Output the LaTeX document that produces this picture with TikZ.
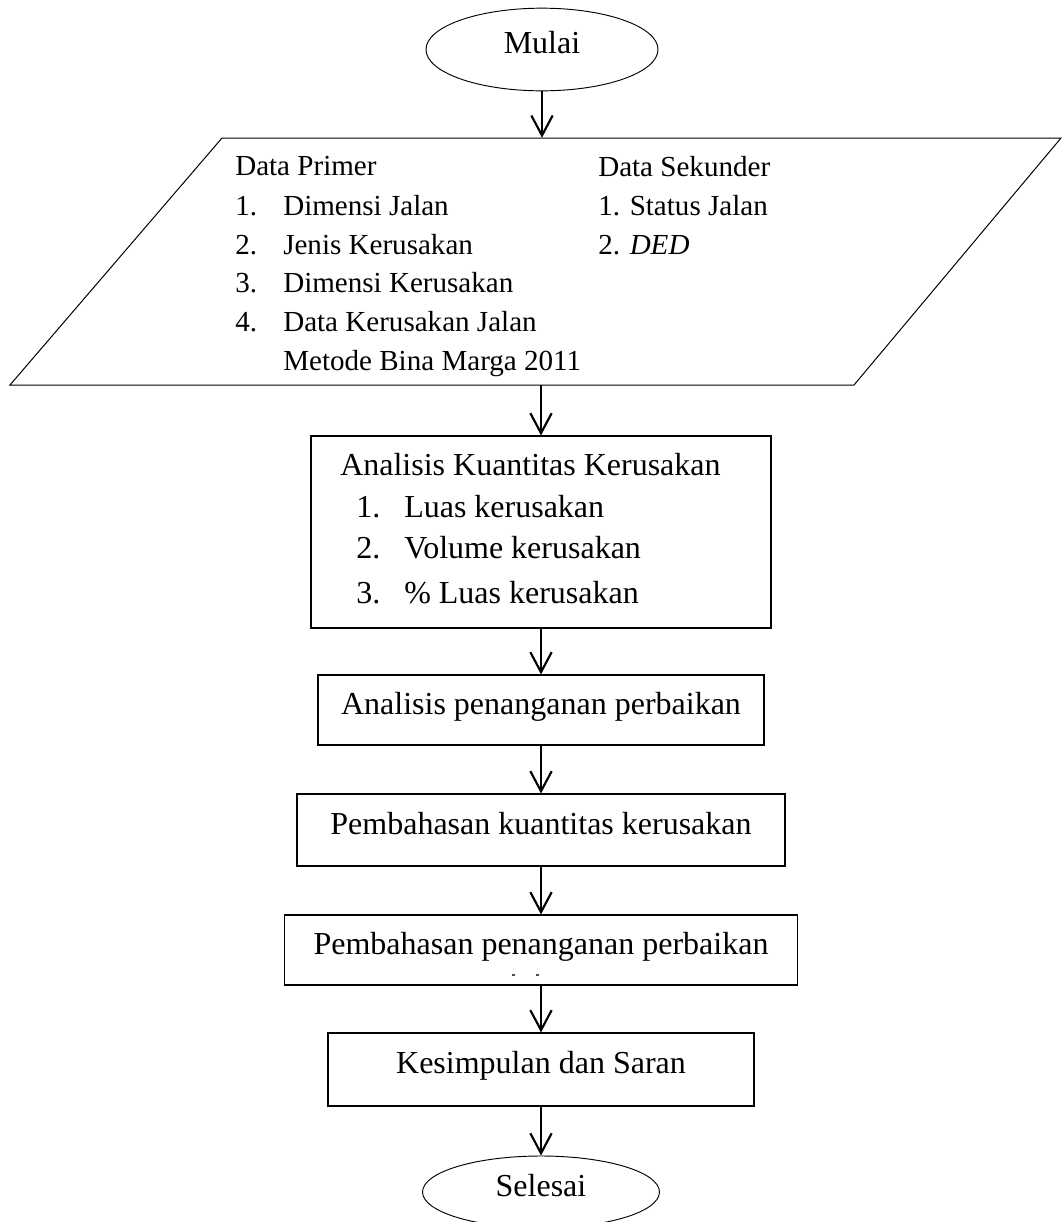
\documentclass[tikz,border=0pt]{standalone}
\usepackage{fontspec}
\setmainfont{Liberation Serif}
\usetikzlibrary{shapes.geometric,arrows.meta}
\tikzset{
  boxfont/.style={font=\fontsize{24}{28}\selectfont},
  datafont/.style={font=\fontsize{21.8}{26}\selectfont},
  procbox/.style={draw, line width=0.85pt, rectangle, inner sep=0pt, boxfont, align=center, text height=18pt, text depth=12pt},
  termnode/.style={draw, line width=0.7pt, ellipse, inner sep=0pt, boxfont, text height=18pt, text depth=12pt},
  txt/.style={inner sep=0pt, anchor=base west},
  flowarrow/.style={line width=1.6pt, -{Straight Barb[length=15pt,width=16pt,line width=1.6pt]}},
  shapeline/.style={line width=0.75pt}
}
\begin{document}
\begin{tikzpicture}[x=0.75pt,y=-0.75pt]
\useasboundingbox (0,0) rectangle (1062,1222);

% Terminator: Mulai
\node[termnode, minimum width=174pt, minimum height=62pt] (mulai) at (542,49.5) {Mulai};

% Data input (parallelogram)
\node[inner sep=0pt, minimum width=10pt, minimum height=185.25pt] (data) at (541,261.5) {};
\draw[shapeline] (222,138) -- (1061,138) -- (854,385) -- (10,385) -- cycle;

\node[txt, datafont] (dp) at (235,175) {Data Primer};
\node[txt, datafont] (n1) at (235,215) {1.};
\node[txt, datafont] (t1) at (283,215) {Dimensi Jalan};
\node[txt, datafont] (n2) at (235,254) {2.};
\node[txt, datafont] (t2) at (283,254) {Jenis Kerusakan};
\node[txt, datafont] (n3) at (235,292) {3.};
\node[txt, datafont] (t3) at (283,292) {Dimensi Kerusakan};
\node[txt, datafont] (n4) at (235,331) {4.};
\node[txt, datafont] (t4) at (283,331) {Data Kerusakan Jalan};
\node[txt, datafont] (t5) at (283,370) {Metode Bina Marga 2011};
\node[txt, datafont] (ds) at (598,176) {Data Sekunder};
\node[txt, datafont] (s1) at (598,215) {1. Status Jalan};
\node[txt, datafont] (s2) at (598,254) {2. \textit{DED}};

% Box 1
\node[procbox, minimum width=345pt, minimum height=144pt] (box1) at (541,532) {};
\node[txt, boxfont] (b1t) at (340,475) {Analisis Kuantitas Kerusakan};
\node[txt, boxfont] (b1n1) at (356,517) {1.};
\node[txt, boxfont] (b1i1) at (404,517) {Luas kerusakan};
\node[txt, boxfont] (b1n2) at (356,558) {2.};
\node[txt, boxfont] (b1i2) at (404,558) {Volume kerusakan};
\node[txt, boxfont] (b1n3) at (356,603) {3.};
\node[txt, boxfont] (b1i3) at (404,603) {\% Luas kerusakan};

% Box 2-5
\node[procbox, minimum width=334.5pt, minimum height=52.5pt] (box2) at (541,710) {Analisis penanganan perbaikan};
\node[procbox, minimum width=366pt, minimum height=54pt] (box3) at (541,830) {Pembahasan kuantitas kerusakan};
\node[procbox, minimum width=384.75pt, minimum height=52.5pt] (box4) at (541,950) {Pembahasan penanganan perbaikan};
\fill[black!70] (512,974) rectangle (515,976);
\fill[black!70] (536,974) rectangle (539,976);
\node[procbox, minimum width=319.5pt, minimum height=54.75pt] (box5) at (541,1069.5) {Kesimpulan dan Saran};

% Terminator: Selesai
\node[termnode, minimum width=177.75pt, minimum height=54pt] (selesai) at (541,1192) {Selesai};

% Connectors
\draw[flowarrow] (mulai.south) -- (mulai.south |- data.north);
\draw[flowarrow] (data.south) -- (data.south |- box1.north);
\draw[flowarrow] (box1.south) -- (box2.north);
\draw[flowarrow] (box2.south) -- (box3.north);
\draw[flowarrow] (box3.south) -- (box4.north);
\draw[flowarrow] (box4.south) -- (box5.north);
\draw[flowarrow] (box5.south) -- (selesai.north);
\end{tikzpicture}
\end{document}
